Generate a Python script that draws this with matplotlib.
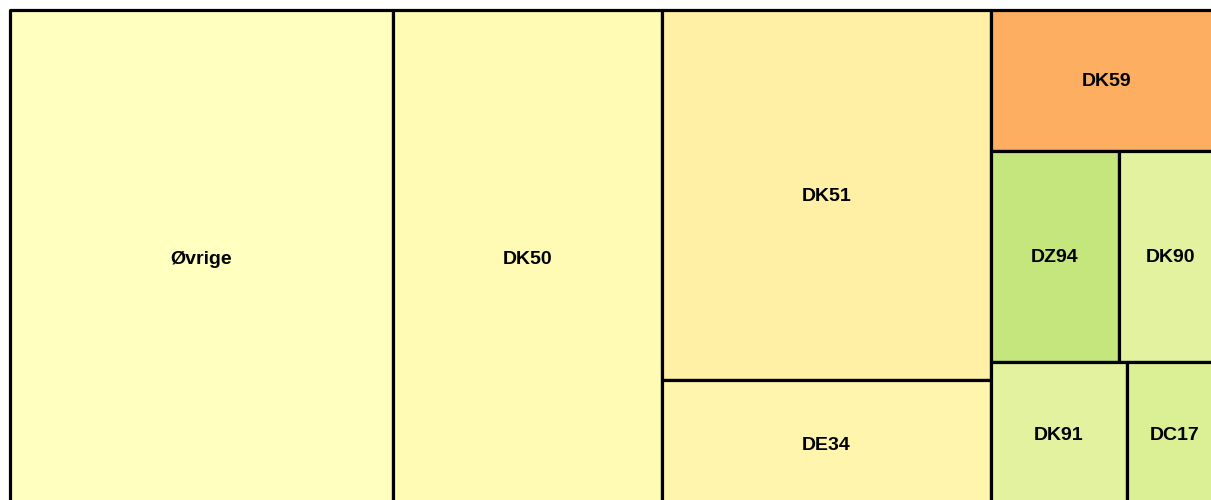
import matplotlib
matplotlib.use("Agg")
import matplotlib.pyplot as plt
from matplotlib.patches import Rectangle

names = ["Øvrige", "DK50", "DK51", "DE34", "DK59", "DZ94", "DK90", "DK91", "DC17"]
values = [1907, 1340, 1217, 421, 326, 270, 217, 199, 139]
colors = ["#FFFFC0", "#FFFAB4", "#FFF0A5", "#FFF5AD", "#FDAE61",
          "#C5E57D", "#E2F29E", "#E2F29E", "#DBEF95"]


def ratio(w, h):
    return max(w / h, h / w)


def squarify(values, x, y, w, h):
    """squarified layout, a strip grows while the previous item's ratio does not get worse"""
    total = float(sum(values))
    areas = [v / total * w * h for v in values]
    rects = []
    i = 0
    while i < len(areas):
        vertical = w >= h
        side = h if vertical else w
        strip = [areas[i]]
        j = i + 1
        while j < len(areas):
            prev = strip[-1]
            old_t = sum(strip) / side
            new_t = (sum(strip) + areas[j]) / side
            if ratio(old_t, prev / old_t) < ratio(new_t, prev / new_t):
                break
            strip.append(areas[j])
            j += 1
        t = sum(strip) / side
        pos = y if vertical else x
        for a in strip:
            s = a / t
            if vertical:
                rects.append((x, pos, t, s))
            else:
                rects.append((pos, y, s, t))
            pos += s
        if vertical:
            x += t
            w -= t
        else:
            y += t
            h -= t
        i = j
    return rects


fig = plt.figure(figsize=(12.11, 5.00), dpi=100)
ax = fig.add_axes([0, 0, 1, 1])
ax.set_xlim(0, 1211)
ax.set_ylim(500, 0)
ax.axis("off")

rects = squarify(values, 10, 10, 1212, 498)
for (rx, ry, rw, rh), name, col in zip(rects, names, colors):
    ax.add_patch(Rectangle((rx, ry), rw, rh, facecolor=col, edgecolor="black",
                           linewidth=2.3, joinstyle="round"))
    ax.text(rx + rw / 2, ry + rh / 2 + 1, name, ha="center", va="center",
            fontsize=14, fontweight="bold", family="Liberation Sans", color="black")

fig.savefig("out.png", dpi=100)
